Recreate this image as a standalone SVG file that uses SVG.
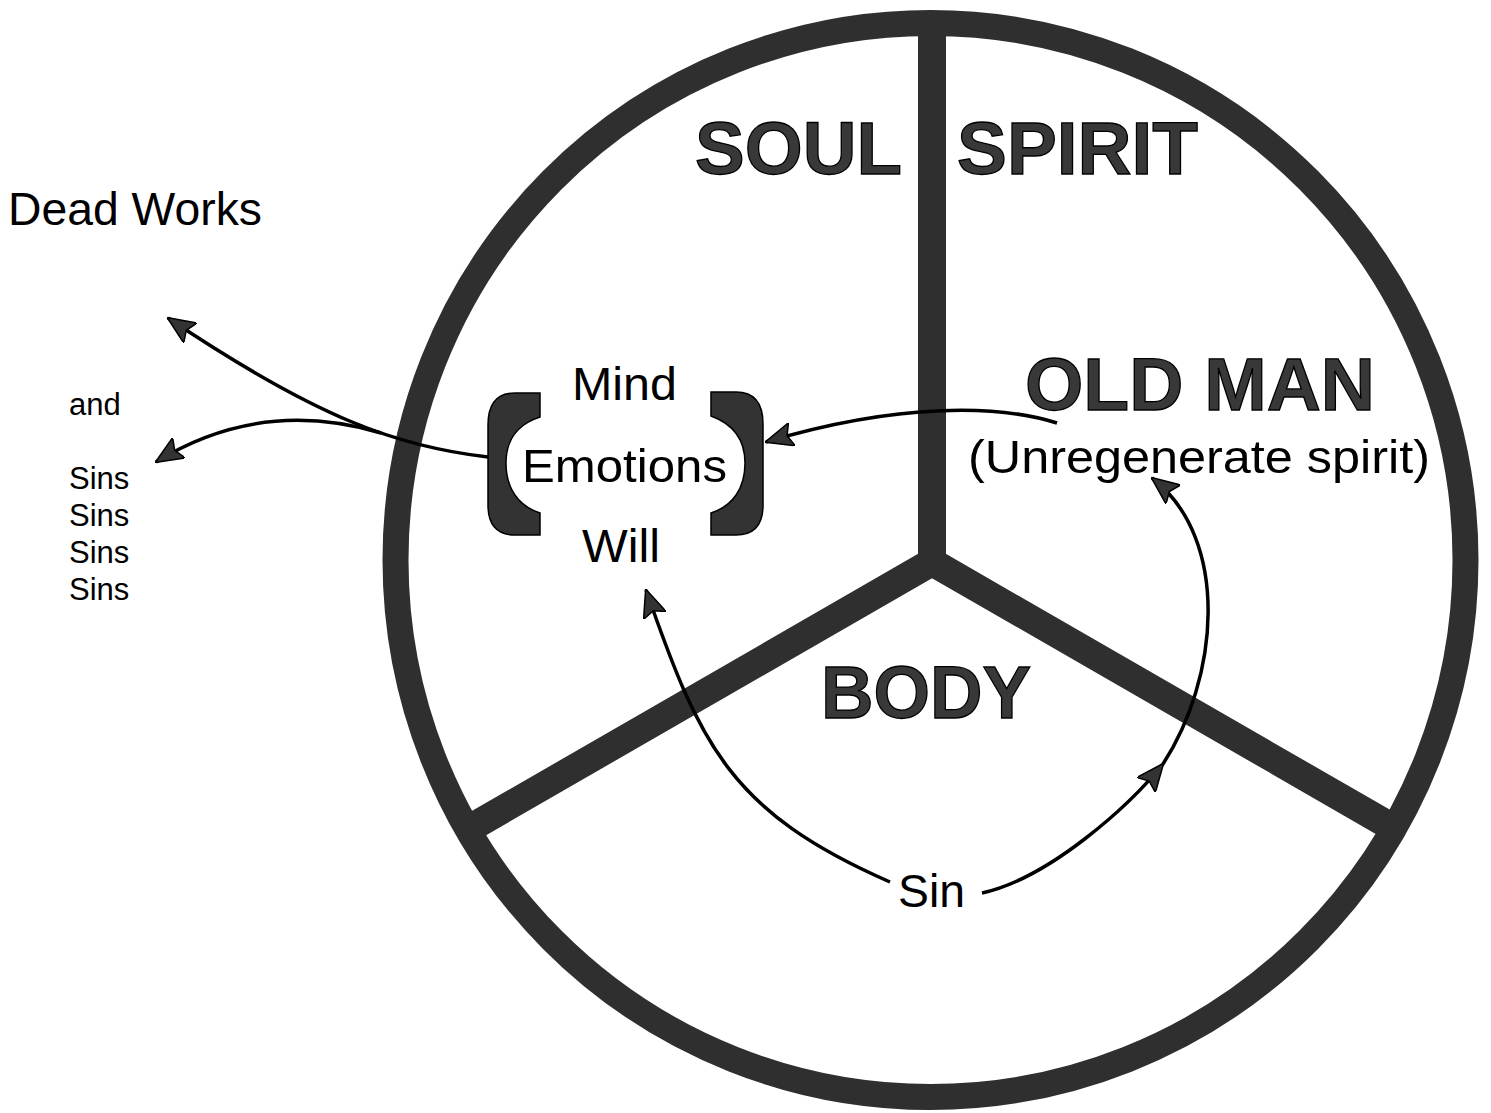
<svg xmlns="http://www.w3.org/2000/svg" width="1491" height="1113" viewBox="0 0 1491 1113">
<style>
.ring{fill:none;stroke:#2f2f2f;stroke-width:26}
.spoke{fill:none;stroke:#2f2f2f;stroke-width:28;stroke-linejoin:miter;stroke-miterlimit:10}
.big{font-family:"Liberation Sans",Arial,Helvetica,sans-serif;font-weight:bold;font-size:74px;fill:#383838;stroke:#000;stroke-width:1.3}
.lbl{font-family:"Liberation Sans",Arial,Helvetica,sans-serif;font-size:47px;fill:#000}
.small{font-family:"Liberation Sans",Arial,Helvetica,sans-serif;font-size:31px;fill:#000}
.conn{fill:none;stroke:#000;stroke-width:3.5}
.bracket{fill:#333;stroke:#000;stroke-width:1.5}
</style>
<defs>
<marker id="ah" viewBox="0 0 28 24" refX="27" refY="12" markerWidth="28" markerHeight="24" markerUnits="userSpaceOnUse" orient="auto">
<path d="M0,0 L28,12 L0,24 L5,12 Z" fill="#333" stroke="#000" stroke-width="1.5"/>
</marker>
</defs>
<rect width="1491" height="1113" fill="#fff"/>

<g id="wheel">
<ellipse class="ring" cx="930.5" cy="560" rx="535" ry="537"/>
<path class="spoke" d="M932,23 L932,562"/>
<path class="spoke" d="M467,830 L932,562 L1397,830"/>
</g>

<g id="soul"><text class="big" x="695" y="174" textLength="207" lengthAdjust="spacingAndGlyphs">SOUL</text></g>
<g id="spirit"><text class="big" x="957" y="174" textLength="241" lengthAdjust="spacingAndGlyphs">SPIRIT</text></g>
<g id="body"><text class="big" x="821" y="718" textLength="210" lengthAdjust="spacingAndGlyphs">BODY</text></g>
<g id="old-man">
<text class="big" x="1025" y="410" textLength="350" lengthAdjust="spacingAndGlyphs">OLD MAN</text>
<text class="lbl" x="968" y="473" textLength="462" lengthAdjust="spacingAndGlyphs">(Unregenerate spirit)</text>
</g>

<g id="connectors">
<path class="conn" d="M1057,423 C1000,405 900,402 766,442" marker-end="url(#ah)"/>
<path class="conn" d="M488,457 C400,447 320,420 168,318" marker-end="url(#ah)"/>
<path class="conn" d="M381,433 C320,415 240,410 156,462" marker-end="url(#ah)"/>
<path class="conn" d="M890,882 C730,812 700,745 646,590" marker-end="url(#ah)"/>
<path class="conn" d="M982,893 C1050,878 1130,805 1163,764" marker-end="url(#ah)"/>
<path class="conn" d="M1163,764 C1218,680 1232,540 1152,478" marker-end="url(#ah)"/>
</g>

<g id="soul-faculties">
<path class="bracket" d="M540,393 L515,393 Q488,393 488,425 L488,505 Q488,535 515,535 L540,535 L540,513 C518,506 506,488 506,463 C506,440 518,424 540,417 Z"/>
<path class="bracket" d="M711,392 L736,392 Q763,392 763,424 L763,505 Q763,535 736,535 L711,535 L711,513 C733,506 745,488 745,463 C745,440 733,424 711,416 Z"/>
<text class="lbl" x="572" y="400" textLength="105" lengthAdjust="spacingAndGlyphs">Mind</text>
<text class="lbl" x="522" y="482" textLength="205" lengthAdjust="spacingAndGlyphs">Emotions</text>
<text class="lbl" x="582" y="562" textLength="78" lengthAdjust="spacingAndGlyphs">Will</text>
</g>

<g id="sin"><text class="lbl" x="898" y="907" textLength="67" lengthAdjust="spacingAndGlyphs">Sin</text></g>

<g id="dead-works"><text class="lbl" x="8" y="225" font-size="46" textLength="254" lengthAdjust="spacingAndGlyphs">Dead Works</text></g>

<g id="and-sins">
<text class="small" x="69" y="415">and</text>
<text class="small" x="69" y="489">Sins</text>
<text class="small" x="69" y="526">Sins</text>
<text class="small" x="69" y="563">Sins</text>
<text class="small" x="69" y="600">Sins</text>
</g>
</svg>
